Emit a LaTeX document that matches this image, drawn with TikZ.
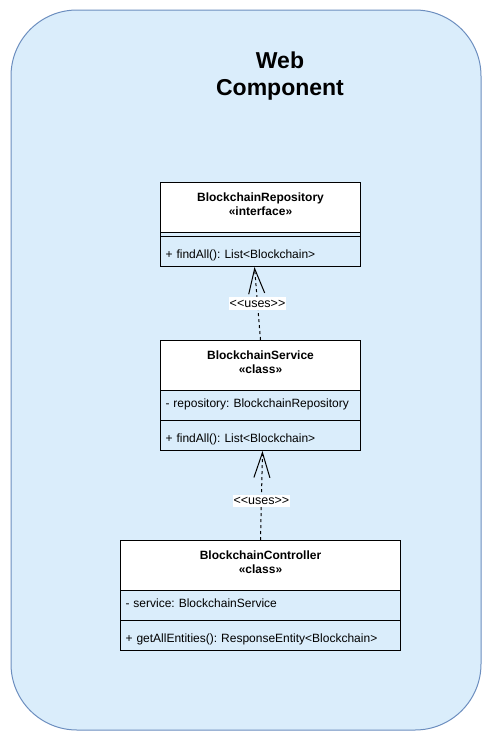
\documentclass[tikz,border=0pt]{standalone}
\usepackage{fontspec}
\setmainfont{Liberation Sans}
\usetikzlibrary{arrows.meta}
\frenchspacing
\definecolor{compfill}{RGB}{218,237,251}
\definecolor{compline}{RGB}{108,142,191}
\newcommand{\classtitle}[2]{\begin{tabular}[t]{@{}c@{}}#1\\«#2»\end{tabular}}
\begin{document}
\begin{tikzpicture}[x=1pt,y=-1pt,line width=1pt]
    \tikzstyle{every node}+=[inner sep=0pt]
    \tikzstyle{classhead}=[draw, fill=white, anchor=north west, font=\bfseries\fontsize{12}{14}\selectfont, text height=18.5pt, text depth=31.5pt]
    \tikzstyle{attrbox}=[draw, anchor=north west, inner xsep=5pt, align=left, font=\fontsize{12}{14}\selectfont, text height=17pt, text depth=13pt]
    \tikzstyle{opsbox}=[attrbox, text height=21.5pt, text depth=8.5pt]
    \tikzstyle{uses}=[draw=black, dash pattern=on 3pt off 3pt, -{Straight Barb[length=25pt,width=16pt]}]
    \tikzstyle{useslabel}=[fill=white, inner sep=1pt, font=\fontsize{12.5}{14}\selectfont, text height=9.2pt, text depth=1.3pt]
    \useasboundingbox (0,0) rectangle (491,742);
    \draw [compline, fill=compfill, rounded corners=66pt] (11,10) rectangle (481,730);
    \node [font=\bfseries\fontsize{23}{27.5}\selectfont, anchor=base] (title) at (280,68.3) {\begin{tabular}[t]{@{}c@{}}Web\\Component\end{tabular}};
    \node [classhead, minimum width=200pt] (repoHead) at (160,182) {\classtitle{BlockchainRepository}{interface}};
    \node [draw, anchor=north west, minimum width=200pt, minimum height=4pt] (repoSep) at (160,232) {};
    \node [opsbox, text width=190pt] (repoOps) at (160,236) {+ findAll(): List<Blockchain>};
    \node [classhead, minimum width=200pt] (serviceHead) at (160,340) {\classtitle{BlockchainService}{class}};
    \node [attrbox, text width=190pt] (serviceAttr) at (160,390) {- repository: BlockchainRepository};
    \node [opsbox, text width=190pt] (serviceOps) at (160,420) {+ findAll(): List<Blockchain>};
    \node [classhead, minimum width=280pt] (ctrlHead) at (120,540) {\classtitle{BlockchainController}{class}};
    \node [attrbox, text width=270pt] (ctrlAttr) at (120,590) {- service: BlockchainService};
    \node [opsbox, text width=270pt] (ctrlOps) at (120,620) {+ getAllEntities(): ResponseEntity<Blockchain>};
    \draw [uses] (serviceHead.north) -- ([xshift=-6pt]repoOps.south) node [useslabel, midway] {<{}<uses>{}>};
    \draw [uses] (ctrlHead.north) -- ([xshift=2pt]serviceOps.south) node [useslabel, pos=0.44] {<{}<uses>{}>};
\end{tikzpicture}
\end{document}
